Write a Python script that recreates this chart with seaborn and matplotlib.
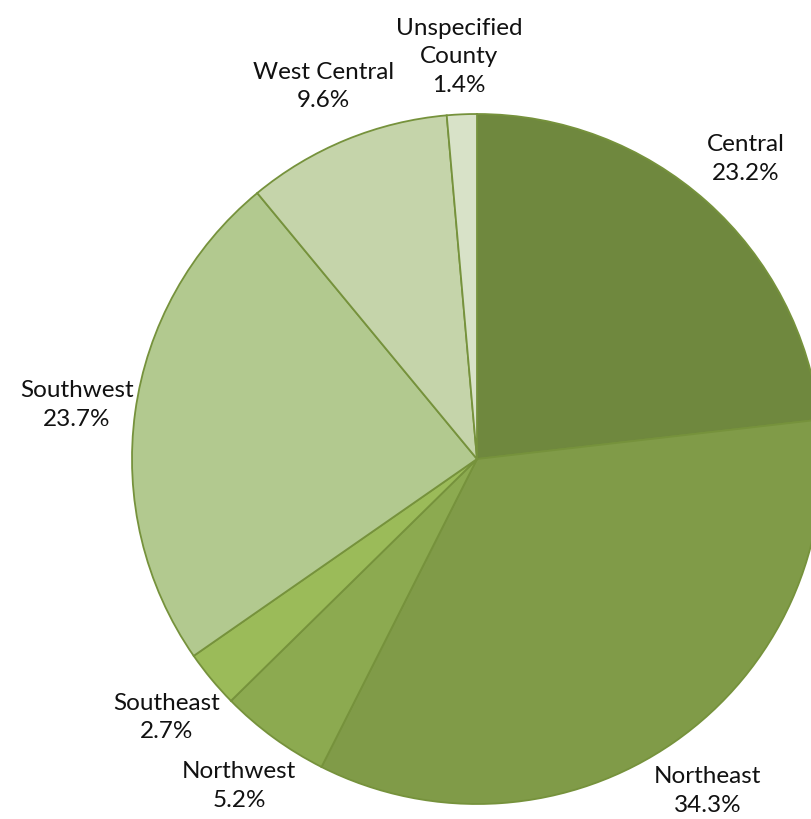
import matplotlib
matplotlib.use('Agg')
import matplotlib.pyplot as plt
import seaborn as sns

# Data
regions = ['Central', 'Northeast', 'Northwest', 'Southeast', 'Southwest',
           'West Central', 'Unspecified\nCounty']
shares = [23.2, 34.3, 5.2, 2.7, 23.7, 9.6, 1.4]
colors = ['#6F883E', '#809B48', '#8CAA50', '#9BBB59', '#B2C98F', '#C5D4AA', '#D8E2C8']

sns.set_theme(style='white')
plt.rcParams['font.family'] = ['Lato', 'DejaVu Sans']

fig = plt.figure(figsize=(8.12, 8.2), dpi=100)
ax = fig.add_axes([0, 0, 1, 1])

labels = [f'{r}\n{v:.1f}%' for r, v in zip(regions, shares)]

wedges, texts = ax.pie(shares, labels=labels, colors=colors, startangle=90,
                       counterclock=False, center=(477, 360), radius=345,
                       labeldistance=1.17,
                       wedgeprops={'edgecolor': '#76923C', 'linewidth': 1.3},
                       textprops={'fontsize': 17.5, 'color': '#111111', 'ha': 'center',
                                  'va': 'center', 'linespacing': 1.45})

ax.set_xlim(0, 812)
ax.set_ylim(0, 820)
ax.set_aspect('equal')
ax.axis('off')

fig.savefig('out.png', dpi=100)
plt.close(fig)
